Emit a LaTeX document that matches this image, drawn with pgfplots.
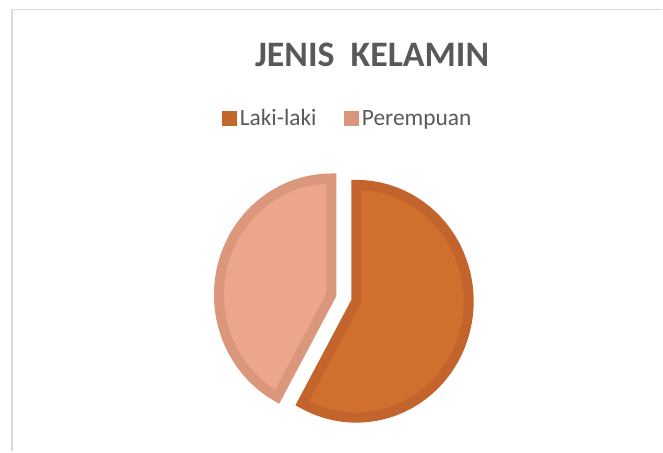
\documentclass[border=0pt]{standalone}
\usepackage{pgfplots}
\pgfplotsset{compat=1.18}
\usepackage{pgfplotstable}
\usepackage{fontspec}
\setmainfont{Carlito}
\definecolor{orangeF}{HTML}{D1702E}
\definecolor{orangeB}{HTML}{C2642B}
\definecolor{orangeL}{HTML}{C3662B}
\definecolor{pinkF}{HTML}{EEA68A}
\definecolor{pinkB}{HTML}{DA977C}
\definecolor{pinkL}{HTML}{D9967C}
\definecolor{textgray}{HTML}{595959}
\definecolor{framegray}{HTML}{D9D9D9}

\pgfplotstableread{
label value
Laki-laki 58
Perempuan 42
}\piedata

\begin{document}%
\begin{tikzpicture}
\pgfplotstablegetelem{0}{value}\of\piedata \let\va\pgfplotsretval
\pgfplotstablegetelem{1}{value}\of\piedata \let\vb\pgfplotsretval
\pgfmathsetmacro{\angA}{\va/(\va+\vb)*360}
\pgfmathsetmacro{\midA}{\angA/2}
\pgfmathsetmacro{\midB}{(\angA+360)/2}
\def\cx{344.2}\def\cy{153.6}\def\ex{12.9}\def\rx{112.5}\def\ry{116.5}
\pgfmathsetmacro{\oxA}{\cx+\ex*sin(\midA)}
\pgfmathsetmacro{\oyA}{\cy+\ex*cos(\midA)}
\pgfmathsetmacro{\oxB}{\cx+\ex*sin(\midB)}
\pgfmathsetmacro{\oyB}{\cy+\ex*cos(\midB)}
\begin{axis}[
  scale only axis, width=663bp, height=452bp,
  xmin=0, xmax=663, ymin=0, ymax=452,
  hide axis, clip=false,
  legend columns=2,
  legend image code/.code={\fill[#1, draw=none] (0bp,-7.5bp) rectangle (15bp,7.5bp);},
  legend style={draw=none, fill=none, inner sep=0pt,
    at={(axis cs:221.7,333.5)}, anchor=west,
    font=\fontsize{23.5}{26}\selectfont, text=textgray,
    nodes={inner ysep=2bp, inner xsep=3.2bp},
    /tikz/every even column/.append style={column sep=24bp}},
]
\path (rel axis cs:0,0) rectangle (rel axis cs:1,1);
\draw[line width=1.5bp, color=framegray] (11.8,0) -- (11.8,442.3) -- (663,442.3);
\addplot[forget plot, fill=orangeF, draw=orangeB, line width=10bp, line join=miter,
  domain=0:\angA, samples=150, variable=\t]
  ({\oxA+\rx*sin(\t)},{\oyA+\ry*cos(\t)}) -- (\oxA,\oyA) -- cycle;
\addplot[forget plot, fill=pinkF, draw=pinkB, line width=10bp, line join=miter,
  domain=\angA:360, samples=120, variable=\t]
  ({\oxB+\rx*sin(\t)},{\oyB+\ry*cos(\t)}) -- (\oxB,\oyB) -- cycle;
\addlegendimage{fill=orangeL}
\addlegendentry{Laki-laki}
\addlegendimage{fill=pinkL}
\addlegendentry{Perempuan}
\node[text=textgray, font=\fontsize{36}{40}\selectfont\bfseries, anchor=center]
  at (axis cs:372.5,397) {JENIS\ \ KELAMIN};
\end{axis}
\end{tikzpicture}%
\end{document}
